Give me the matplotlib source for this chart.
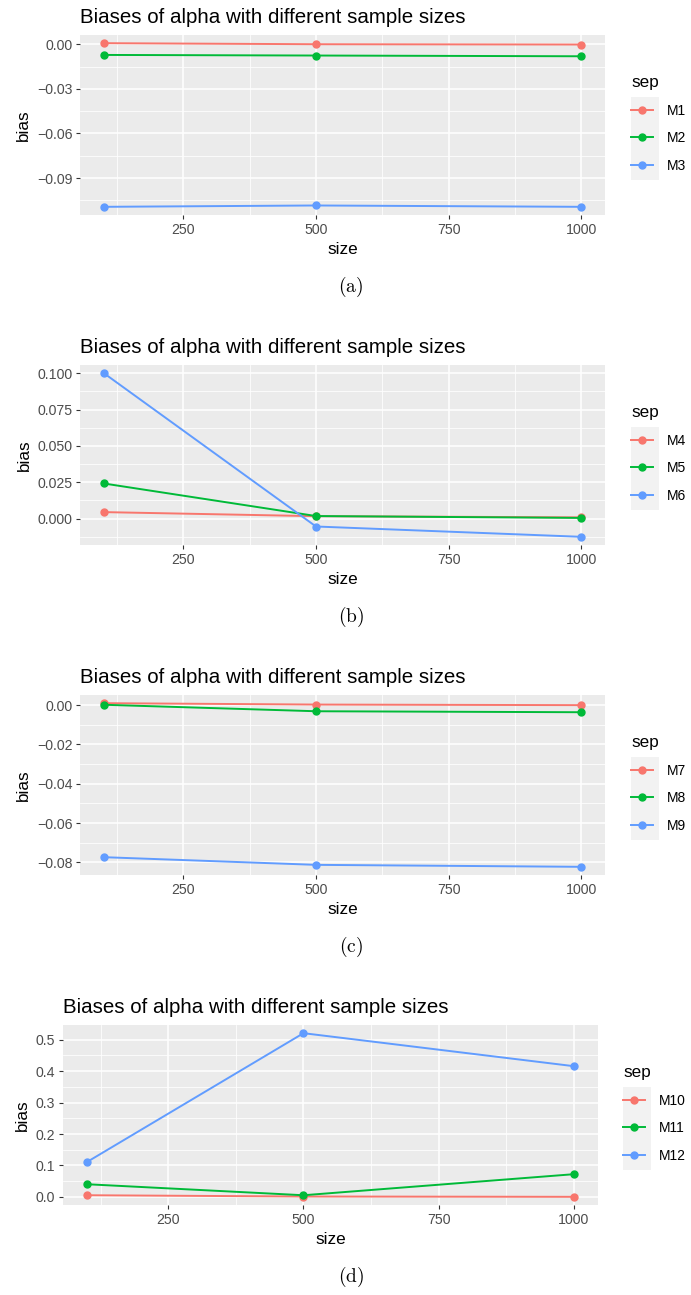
import matplotlib
matplotlib.use("Agg")
import matplotlib.pyplot as plt
from matplotlib.patches import Rectangle
import numpy as np

plt.rcParams['font.family'] = ['Liberation Sans', 'DejaVu Sans']
plt.rcParams['mathtext.fontset'] = 'cm'

# data
sizes = [100, 500, 1000]
title = "Biases of alpha with different sample sizes"
colors = ['#F8766D', '#00BA38', '#619CFF']

labels_a = ['M1', 'M2', 'M3']
bias_a = [[0.0007, 0.0000, -0.0002],
          [-0.0072, -0.0076, -0.0081],
          [-0.1093, -0.1084, -0.1093]]
yticks_a = [0.00, -0.03, -0.06, -0.09]
yfmt_a = '{:.2f}'

labels_b = ['M4', 'M5', 'M6']
bias_b = [[0.0044, 0.0016, 0.0008],
          [0.0241, 0.0017, 0.0004],
          [0.1000, -0.0055, -0.0126]]
yticks_b = [0.000, 0.025, 0.050, 0.075, 0.100]
yfmt_b = '{:.3f}'

labels_c = ['M7', 'M8', 'M9']
bias_c = [[0.0010, 0.0003, 0.0000],
          [0.0002, -0.0031, -0.0036],
          [-0.0773, -0.0812, -0.0822]]
yticks_c = [0.00, -0.02, -0.04, -0.06, -0.08]
yfmt_c = '{:.2f}'

labels_d = ['M10', 'M11', 'M12']
bias_d = [[0.005, 0.001, 0.000],
          [0.040, 0.005, 0.072],
          [0.1115, 0.521, 0.416]]
yticks_d = [0.0, 0.1, 0.2, 0.3, 0.4, 0.5]
yfmt_d = '{:.1f}'

xticks = [250, 500, 750, 1000]
xminor = [125, 375, 625, 875]
captions = ['(a)', '(b)', '(c)', '(d)']

W, H = 691, 1295
fig = plt.figure(figsize=(W / 100, H / 100), dpi=100)


def px_axes(left, top, right, bottom):
    return fig.add_axes([left / W, 1 - bottom / H, (right - left) / W, (bottom - top) / H])


def panel(box, labels, bias, yticks, yfmt, leg_top, key_box, cap_y, cap):
    ax = px_axes(*box)
    ax.set_facecolor('#EBEBEB')
    for s in ax.spines.values():
        s.set_visible(False)
    for lab, vals, c in zip(labels, bias, colors):
        ax.plot(sizes, vals, color=c, lw=1.4, marker='o', ms=5, label=lab)
    ax.margins(x=0.05, y=0.05)
    ax.set_xticks(xticks)
    ax.set_xticklabels([str(t) for t in xticks])
    ax.set_yticks(yticks)
    ax.set_yticklabels([yfmt.format(t).replace('-', '\u2212') for t in yticks])
    yt = np.array(yticks)
    step = abs(yt[1] - yt[0])
    lo, hi = ax.get_ylim()
    ymin = [m for m in np.arange(min(yt) - step / 2, max(yt) + step, step) if lo < m < hi]
    ax.set_yticks(ymin, minor=True)
    ax.set_xticks(xminor, minor=True)
    ax.set_ylim(lo, hi)
    ax.grid(which='major', color='white', lw=1.1)
    ax.grid(which='minor', color='white', lw=0.55)
    ax.set_axisbelow(True)
    ax.tick_params(which='major', length=2.9, width=0.8, color='#333333',
                   labelcolor='#4D4D4D', labelsize=10.2, pad=2.6)
    ax.tick_params(which='minor', length=0)
    ax.set_title(title, loc='left', fontsize=14.8, pad=8.4)
    ax.set_xlabel('size', fontsize=12.3, labelpad=3.5)
    ax.set_ylabel('bias', fontsize=12.3, labelpad=4)
    ax.legend(title='sep', loc='upper left', bbox_to_anchor=(key_box[0] / W, 1 - leg_top / H),
              bbox_transform=fig.transFigure, frameon=False, fontsize=10,
              title_fontsize=12.3, handlelength=1.6, handletextpad=1.0,
              labelspacing=0.98, borderpad=0, borderaxespad=0, alignment='left')
    # grey key background
    kx0, kx1, ky0, ky1 = key_box
    fig.patches.append(Rectangle((kx0 / W, 1 - ky1 / H), (kx1 - kx0) / W, (ky1 - ky0) / H,
                                 transform=fig.transFigure, facecolor='#F2F2F2',
                                 edgecolor='none', zorder=-1))
    fig.text(350.7 / W, 1 - cap_y / H, r'$\mathrm{' + cap + '}$', ha='center', va='center', fontsize=14)
    return ax


panel((80, 35, 605, 215), labels_a, bias_a, yticks_a, yfmt_a, 75, (631, 659, 97, 180), 287, captions[0])
panel((80, 365, 605, 545), labels_b, bias_b, yticks_b, yfmt_b, 405, (631, 659, 427, 510), 617, captions[1])
panel((80, 695, 605, 875), labels_c, bias_c, yticks_c, yfmt_c, 735, (631, 659, 757, 840), 947, captions[2])
panel((63, 1025, 598, 1205), labels_d, bias_d, yticks_d, yfmt_d, 1065, (623, 651, 1087, 1170), 1277, captions[3])

fig.savefig('out.png', dpi=100)
